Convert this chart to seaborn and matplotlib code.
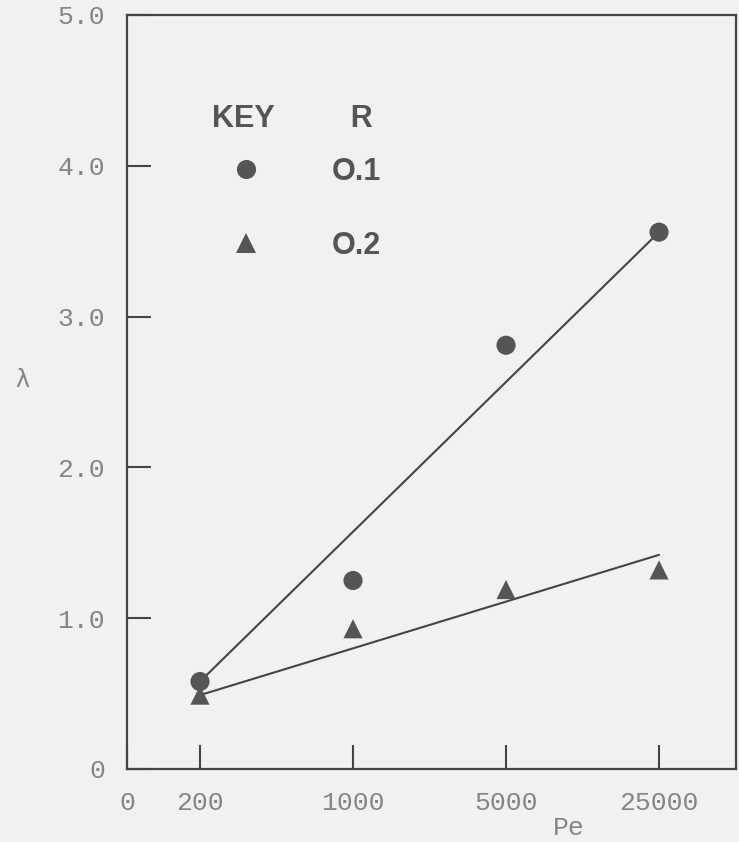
import matplotlib
matplotlib.use("Agg")
import matplotlib.pyplot as plt
import numpy as np
import pandas as pd
import seaborn as sns
from matplotlib.ticker import NullLocator
from matplotlib.legend_handler import HandlerLine2D

# values
pe = [200, 1000, 5000, 25000]
lam_r01 = [0.58, 1.25, 2.81, 3.56]
lam_r02 = [0.49, 0.93, 1.19, 1.32]
r_labels = ["O.1", "O.2"]

# straight lines as drawn on the original (end points)
fit_pe = [200, 25000]
fit_r01 = [0.58, 3.56]
fit_r02 = [0.49, 1.42]

pe_tick_labels = ["200", "1000", "5000", "25000"]
y_ticks = [0, 1, 2, 3, 4, 5]
y_tick_labels = ["0", "1.0", "2.0", "3.0", "4.0", "5.0"]

points = pd.DataFrame({
    "Pe": pe + pe,
    "lam": lam_r01 + lam_r02,
    "R": [r_labels[0]] * len(pe) + [r_labels[1]] * len(pe),
})
lines = pd.DataFrame({
    "Pe": fit_pe + fit_pe,
    "lam": fit_r01 + fit_r02,
    "R": [r_labels[0]] * 2 + [r_labels[1]] * 2,
})


class DroppedMarker(HandlerLine2D):
    # legend marker sits a bit lower so it lines up with the label text
    def create_artists(self, legend, orig_handle, xdescent, ydescent,
                       width, height, fontsize, trans):
        arts = super().create_artists(legend, orig_handle, xdescent, ydescent,
                                      width, height, fontsize, trans)
        for a in arts:
            a.set_ydata(np.asarray(a.get_ydata()) - 0.39 * fontsize)
        return arts


sns.set_style("ticks")
bg = "#f1f1ef"
ink = "#444444"
grey = "#858585"

fig = plt.figure(figsize=(7.39, 8.42), dpi=100, facecolor=bg)
ax = fig.add_axes([127 / 739, 73 / 842, 609 / 739, 754 / 842], facecolor=bg)
ax.set_xscale("log")

sns.lineplot(data=lines, x="Pe", y="lam", units="R", estimator=None,
             color=ink, lw=1.5, legend=False, ax=ax)
sns.scatterplot(data=points, x="Pe", y="lam", hue="R", style="R",
                markers={r_labels[0]: "o", r_labels[1]: "^"},
                palette={r_labels[0]: "#555555", r_labels[1]: "#555555"},
                s=190, linewidth=0, ax=ax, zorder=3)

xmin = 200 / 5 ** 0.477
xmax = 25000 * 5 ** 0.503
ax.set_xlim(xmin, xmax)
ax.set_ylim(0, 5)
ax.xaxis.set_minor_locator(NullLocator())
ax.set_xticks([xmin] + pe)
ax.set_xticklabels(["0"] + pe_tick_labels)
ax.set_yticks(y_ticks)
ax.set_yticklabels(y_tick_labels)

ax.tick_params(direction="in", length=17, width=1.5, color=ink,
               labelcolor=grey, labelsize=19, pad=16)
for lab in ax.get_xticklabels() + ax.get_yticklabels():
    lab.set_fontfamily("Liberation Mono")
for side in ["left", "right", "top", "bottom"]:
    ax.spines[side].set_visible(True)
    ax.spines[side].set_color(ink)
    ax.spines[side].set_linewidth(1.6)

ax.set_xlabel("")
ax.set_ylabel("")
fig.text(569 / 739, 1 - 828 / 842, "Pe", ha="center", va="center",
         fontsize=19, color=grey, family="Liberation Mono")
fig.text(22 / 739, 1 - 380 / 842, "λ", ha="center", va="center",
         fontsize=17, color=grey, family="DejaVu Sans")

handles, labels = ax.get_legend_handles_labels()
leg = ax.legend(handles, labels, title="KEY         R", loc="upper left",
                bbox_to_anchor=(0.140, 0.882), frameon=False,
                borderpad=0, borderaxespad=0, alignment="left",
                handlelength=2.2, handleheight=3.36, handletextpad=1.7,
                labelspacing=0.0, markerscale=1.0,
                handler_map={h: DroppedMarker() for h in handles},
                prop={"family": "Liberation Sans", "weight": "bold", "size": 22},
                title_fontproperties={"family": "Liberation Sans", "weight": "bold", "size": 22})
for t in leg.get_texts():
    t.set_color("#555555")
leg.get_title().set_color("#555555")

fig.savefig("out.png", dpi=100, facecolor=bg)
